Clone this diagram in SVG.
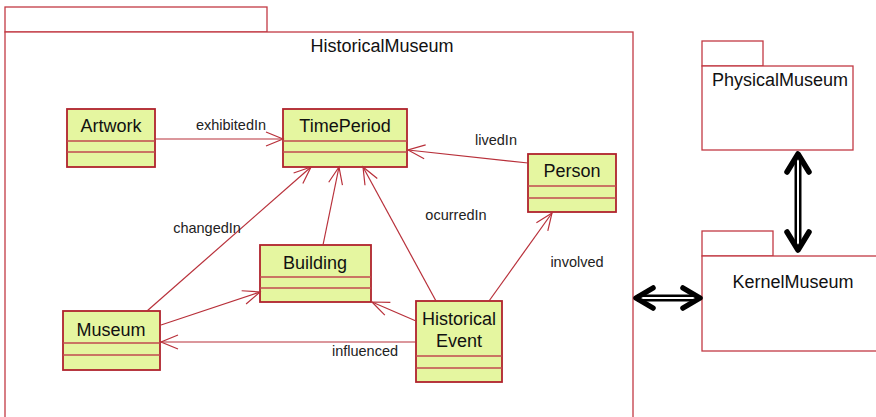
<svg xmlns="http://www.w3.org/2000/svg" width="876" height="417" viewBox="0 0 876 417">
<style>
.pkg{fill:#fff;stroke:#c23a44;stroke-width:1.3}
.cls rect{fill:#e5f6a0;stroke:#b0232d;stroke-width:1.8}
.cls line{stroke:#c04a4f;stroke-width:1.3}
.cn{font-family:"Liberation Sans",Arial,sans-serif;font-size:18px;fill:#111;text-anchor:middle}
.lbl{font-family:"Liberation Sans",Arial,sans-serif;font-size:14.5px;fill:#222;text-anchor:middle}
.assoc{stroke:#b8303a;stroke-width:1.2;fill:none;marker-end:url(#open)}
.dep-outer{stroke:#000;stroke-width:7;fill:none}
.dep-inner{stroke:#fff;stroke-width:2;fill:none}
.chev{stroke:#000;stroke-width:5.5;fill:none;stroke-linecap:round;stroke-linejoin:round}
</style>
<defs>
<marker id="open" viewBox="-19 -9 21 18" refX="0" refY="0" markerWidth="21" markerHeight="18" markerUnits="userSpaceOnUse" orient="auto">
<path d="M-17,-7 L0,0 L-17,7" fill="none" stroke="#b8303a" stroke-width="1.2"/>
</marker>
</defs>
<rect width="876" height="417" fill="#fff"/>

<g id="HistoricalMuseum">
<rect class="pkg" x="5" y="7" width="262" height="25"/>
<rect class="pkg" x="5" y="32" width="628" height="400"/>
<text class="cn" x="382" y="52">HistoricalMuseum</text>
</g>

<g id="PhysicalMuseum">
<rect class="pkg" x="702" y="41" width="61" height="25"/>
<rect class="pkg" x="702" y="66" width="151" height="84"/>
<text class="cn" x="712" y="86" style="text-anchor:start">PhysicalMuseum</text>
</g>

<g id="KernelMuseum">
<rect class="pkg" x="702" y="231" width="71" height="25"/>
<rect class="pkg" x="702" y="256" width="200" height="95"/>
<text class="cn" x="793" y="288">KernelMuseum</text>
</g>

<g id="Artwork" class="cls">
<rect x="67" y="109" width="88" height="58"/>
<line x1="67" y1="141" x2="155" y2="141"/>
<line x1="67" y1="152" x2="155" y2="152"/>
<text class="cn" x="111" y="132">Artwork</text>
</g>

<g id="TimePeriod" class="cls">
<rect x="283" y="109" width="124" height="58"/>
<line x1="283" y1="141" x2="407" y2="141"/>
<line x1="283" y1="152" x2="407" y2="152"/>
<text class="cn" x="345" y="132">TimePeriod</text>
</g>

<g id="Person" class="cls">
<rect x="528" y="154" width="88" height="58"/>
<line x1="528" y1="186" x2="616" y2="186"/>
<line x1="528" y1="198" x2="616" y2="198"/>
<text class="cn" x="572" y="177">Person</text>
</g>

<g id="Building" class="cls">
<rect x="260" y="245" width="111" height="57"/>
<line x1="260" y1="277" x2="371" y2="277"/>
<line x1="260" y1="288" x2="371" y2="288"/>
<text class="cn" x="315" y="269">Building</text>
</g>

<g id="Museum" class="cls">
<rect x="63" y="311" width="97" height="59"/>
<line x1="63" y1="343" x2="160" y2="343"/>
<line x1="63" y1="355" x2="160" y2="355"/>
<text class="cn" x="111" y="336">Museum</text>
</g>

<g id="HistoricalEvent" class="cls">
<rect x="416" y="301" width="86" height="81"/>
<line x1="416" y1="356" x2="502" y2="356"/>
<line x1="416" y1="368" x2="502" y2="368"/>
<text class="cn" x="459" y="325">Historical</text>
<text class="cn" x="459" y="347">Event</text>
</g>

<g id="connectors">
<line class="assoc" x1="155" y1="139" x2="283" y2="139"/>
<text class="lbl" x="231" y="130">exhibitedIn</text>
<line class="assoc" x1="528" y1="163" x2="408" y2="150"/>
<text class="lbl" x="496" y="145">livedIn</text>
<line class="assoc" x1="147" y1="311" x2="311" y2="167"/>
<text class="lbl" x="207" y="233">changedIn</text>
<line class="assoc" x1="323" y1="245" x2="339" y2="167"/>
<line class="assoc" x1="436" y1="301" x2="363" y2="167"/>
<text class="lbl" x="456" y="220">ocurredIn</text>
<line class="assoc" x1="489" y1="301" x2="552" y2="213"/>
<text class="lbl" x="577" y="267">involved</text>
<line class="assoc" x1="161" y1="325" x2="260" y2="292"/>
<line class="assoc" x1="416" y1="321" x2="372" y2="302"/>
<line class="assoc" x1="416" y1="342" x2="161" y2="342"/>
<text class="lbl" x="365" y="356">influenced</text>

<line class="dep-outer" x1="798" y1="156" x2="798" y2="248"/>
<line class="dep-inner" x1="798" y1="158" x2="798" y2="246"/>
<polyline class="chev" points="787,172 798,154 809,172"/>
<polyline class="chev" points="787,232 798,250 809,232"/>

<line class="dep-outer" x1="637" y1="298" x2="698" y2="298"/>
<line class="dep-inner" x1="639" y1="298" x2="696" y2="298"/>
<polyline class="chev" points="653,288 636,298 653,308"/>
<polyline class="chev" points="683,288 700,298 683,308"/>
</g>
</svg>
